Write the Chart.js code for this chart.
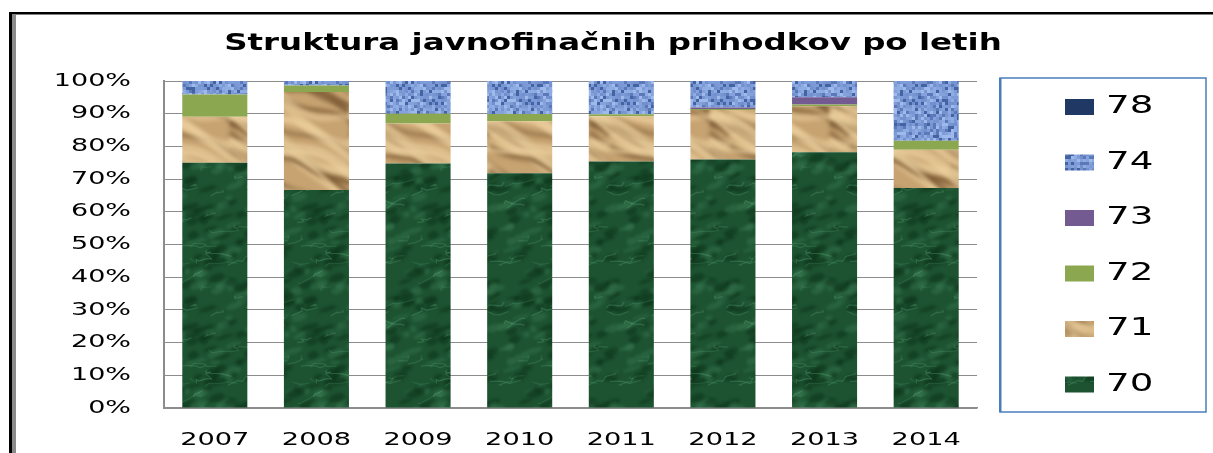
<!DOCTYPE html>
<html>
<head>
<meta charset="utf-8">
<title>Struktura javnofinačnih prihodkov po letih</title>
<script src="https://cdn.jsdelivr.net/npm/chart.js@4.4.1/dist/chart.umd.min.js"></script>
<style>
    html, body { margin: 0; padding: 0; background: #fff; }
    #chart { display: block; }
</style>
</head>
<body>
<canvas id="chart" width="1213" height="453"></canvas>
<script>
// shares in %
const years = ['2007', '2008', '2009', '2010', '2011', '2012', '2013', '2014'];
const s70 = [75.0, 66.7, 74.8, 71.8, 75.4, 76.0, 78.2, 67.3];
const s71 = [14.1, 29.9, 12.2, 15.9, 13.8, 15.1, 14.1, 11.7];
const s72 = [6.8, 2.0, 3.0, 2.2, 0.6, 0.3, 0.5, 2.7];
const s73 = [0, 0, 0, 0, 0, 0.5, 2.2, 0];
const s74 = [4.1, 1.4, 10.0, 10.1, 10.2, 8.1, 5.0, 18.3];
const s78 = [0, 0, 0, 0, 0, 0, 0, 0];
const yTicks = [0, 10, 20, 30, 40, 50, 60, 70, 80, 90, 100];

const FONT = 'DejaVu Sans';
const canvas = document.getElementById('chart');
const ctx = canvas.getContext('2d');

// seeded generator, only for the texture tiles
function seeded(seed) {
    return function () {
        seed = (seed * 16807) % 2147483647;
        return (seed - 1) / 2147483646;
    };
}

// draw a shape on every wrap offset so the tile repeats cleanly
function wrapped(size, fn) {
    for (let dx = -size; dx <= size; dx += size) {
        for (let dy = -size; dy <= size; dy += size) fn(dx, dy);
    }
}

function tile(n) {
    const c = document.createElement('canvas');
    c.width = c.height = n;
    return c;
}

function marble() {
    const n = 120;
    const c = tile(n);
    const g = c.getContext('2d');
    const r = seeded(11);
    g.fillStyle = '#1d5331';
    g.fillRect(0, 0, n, n);
    g.filter = 'blur(1.5px)';
    for (let i = 0; i < 110; i++) {
        const x = r() * n, y = r() * n, a = 3 + r() * 8, b = 1.5 + r() * 3;
        const col = r() < 0.55 ? 'rgba(8,44,20,0.45)' : 'rgba(64,128,88,0.35)';
        wrapped(n, function (dx, dy) {
            g.fillStyle = col;
            g.beginPath();
            g.ellipse(x + dx, y + dy, a, b, -0.3, 0, Math.PI * 2);
            g.fill();
        });
    }
    g.filter = 'blur(0.6px)';
    for (let i = 0; i < 30; i++) {
        let x = r() * n, y = r() * n;
        const pts = [[x, y]];
        for (let k = 0; k < 4; k++) {
            x += (r() - 0.2) * 14;
            y += (r() - 0.65) * 8;
            pts.push([x, y]);
        }
        const col = 'rgba(100,175,128,' + (0.15 + r() * 0.2).toFixed(2) + ')';
        wrapped(n, function (dx, dy) {
            g.strokeStyle = col;
            g.lineWidth = 1.2;
            g.beginPath();
            pts.forEach(function (p, j) {
                if (j === 0) g.moveTo(p[0] + dx, p[1] + dy);
                else g.lineTo(p[0] + dx, p[1] + dy);
            });
            g.stroke();
        });
    }
    return ctx.createPattern(c, 'repeat');
}

function wood() {
    const n = 120;
    const c = tile(n);
    const g = c.getContext('2d');
    const r = seeded(5);
    g.fillStyle = '#c7a371';
    g.fillRect(0, 0, n, n);
    g.filter = 'blur(2px)';
    for (let i = 0; i < 16; i++) {
        const y0 = r() * n, w = 3 + r() * 7, amp = 4 + r() * 7;
        const dark = r() < 0.5;
        const col = dark ? 'rgba(115,82,45,' + (0.45 + r() * 0.3).toFixed(2) + ')'
                         : 'rgba(236,208,158,' + (0.5 + r() * 0.3).toFixed(2) + ')';
        wrapped(n, function (dx, dy) {
            g.strokeStyle = col;
            g.lineWidth = w;
            g.beginPath();
            for (let x = -10; x <= n + 10; x += 4) {
                const y = y0 + x * 0.5 + Math.sin(x / 18 + y0) * amp - n * 0.5;
                if (x === -10) g.moveTo(x + dx, y + dy);
                else g.lineTo(x + dx, y + dy);
            }
            g.stroke();
        });
    }
    return ctx.createPattern(c, 'repeat');
}

function weave() {
    const cell = 3, cells = 32, n = cell * cells;
    const c = tile(n);
    const g = c.getContext('2d');
    const r = seeded(3);
    const cols = ['#7d9bd6', '#7290cd', '#8fabe3', '#9fb9ea', '#5b79b9', '#4463a2', '#85a2dc', '#7896d2'];
    for (let i = 0; i < cells; i++) {
        for (let j = 0; j < cells; j++) {
            g.fillStyle = cols[Math.floor(r() * cols.length)];
            g.fillRect(i * cell, j * cell, cell * (r() < 0.4 ? 2 : 1), cell);
        }
    }
    return ctx.createPattern(c, 'repeat');
}

// stretch text horizontally around its anchor, like the original picture
function stretchText(item, method, sx) {
    if (!item || item['_st_' + method]) return;
    const orig = item[method];
    item[method] = function () {
        const c = this.ctx;
        const fill = c.fillText;
        c.fillText = function (t, x, y, mw) {
            c.save();
            c.translate(x, y);
            c.scale(sx, 1);
            if (mw === undefined) fill.call(c, t, 0, 0);
            else fill.call(c, t, 0, 0, mw);
            c.restore();
        };
        try {
            return orig.apply(this, arguments);
        } finally {
            delete c.fillText;
        }
    };
    item['_st_' + method] = true;
}

const frame = {
    id: 'frame',
    beforeLayout(chart) {
        const lg = chart.legend;
        if (lg && !lg._fixed) {
            const fit = lg.fit;
            lg.fit = function () {
                fit.call(this);
                this.width = 229;
            };
            lg._fixed = true;
        }
    },
    afterLayout(chart) {
        const lg = chart.legend;
        lg.left = chart.chartArea.right + 56.5;
        lg.top = chart.chartArea.top - 17.5;
        lg.bottom = chart.height;
    },
    beforeDraw(chart) {
        stretchText(chart.scales.y, 'drawLabels', 1.5);
        stretchText(chart.scales.x, 'drawLabels', 1.6);
        stretchText(chart.titleBlock, 'draw', 1.41);
        stretchText(chart.legend, 'draw', 1.55);

        const c = chart.ctx;
        c.save();
        c.fillStyle = '#000';
        c.fillRect(9, 12, chart.width - 9, 2.5);
        c.fillRect(9, 12, 3, chart.height - 12);
        c.fillStyle = '#8a8a8a';
        c.fillRect(12, 14.5, 4, chart.height - 14.5);
        c.restore();
    },
    afterDraw(chart) {
        const a = chart.chartArea;
        const c = chart.ctx;
        const l = a.right + 23, t = a.top - 3, rgt = chart.width - 7, b = a.bottom + 4;
        c.save();
        c.strokeStyle = '#4a7ebb';
        c.lineWidth = 1.5;
        c.strokeRect(l, t, rgt - l, b - t);
        c.fillStyle = '#4a7ebb';
        c.fillRect(l - 1, t, 2.5, b - t);
        c.restore();
    }
};

const series = [
    { label: '70', data: s70, color: marble() },
    { label: '71', data: s71, color: wood() },
    { label: '72', data: s72, color: '#8ba74f' },
    { label: '73', data: s73, color: '#735a91' },
    { label: '74', data: s74, color: weave() },
    { label: '78', data: s78, color: '#1f3864' }
];

new Chart(ctx, {
    type: 'bar',
    data: {
        labels: years,
        datasets: series.map(function (s) {
            return {
                label: s.label,
                data: s.data,
                backgroundColor: s.color,
                borderWidth: 0,
                categoryPercentage: 0.8,
                barPercentage: 0.8
            };
        })
    },
    options: {
        responsive: false,
        animation: false,
        layout: { padding: { left: 20, right: 7, top: 14, bottom: 0 } },
        plugins: {
            title: {
                display: true,
                text: 'Struktura javnofinačnih prihodkov po letih',
                color: '#000',
                font: { family: FONT, size: 23, weight: 'bold' },
                padding: { top: 16.5, bottom: 22.9 }
            },
            legend: {
                position: 'right',
                align: 'start',
                reverse: true,
                labels: {
                    color: '#000',
                    font: { family: FONT, size: 24 },
                    boxWidth: 29,
                    boxHeight: 16,
                    padding: 31.5
                }
            },
            tooltip: { enabled: false }
        },
        scales: {
            x: {
                stacked: true,
                grid: { display: false },
                border: { color: '#8c8c8c', width: 1.5 },
                ticks: {
                    color: '#000',
                    font: { family: FONT, size: 17 },
                    padding: 14,
                    maxRotation: 0,
                    autoSkip: false
                },
                afterFit: function (s) { s.height = 45; }
            },
            y: {
                stacked: true,
                min: yTicks[0],
                max: yTicks[yTicks.length - 1],
                grid: { color: '#8c8c8c', drawTicks: false },
                border: { color: '#8c8c8c', width: 2 },
                ticks: {
                    stepSize: yTicks[1] - yTicks[0],
                    color: '#000',
                    font: { family: FONT, size: 18 },
                    padding: 33,
                    callback: function (v) { return v + '%'; }
                },
                afterFit: function (s) { s.width = 144; }
            }
        }
    },
    plugins: [frame]
});
</script>
</body>
</html>
